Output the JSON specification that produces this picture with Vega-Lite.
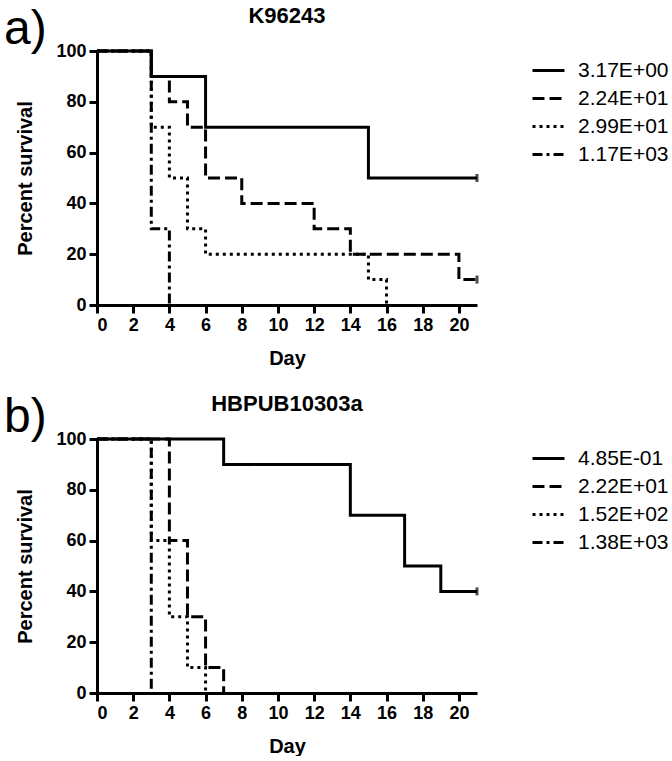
{
  "$schema": "https://vega.github.io/schema/vega-lite/v6.json",
  "padding": {"left": 3, "top": 5, "right": 0, "bottom": 0},
  "background": "white",
  "datasets": {
    "a": [
      {"dose": "1.17E+03", "day": 0, "pct": 100}, {"dose": "1.17E+03", "day": 3, "pct": 30}, {"dose": "1.17E+03", "day": 4, "pct": 0},
      {"dose": "2.99E+01", "day": 0, "pct": 100}, {"dose": "2.99E+01", "day": 3, "pct": 70}, {"dose": "2.99E+01", "day": 4, "pct": 50},
      {"dose": "2.99E+01", "day": 5, "pct": 30}, {"dose": "2.99E+01", "day": 6, "pct": 20}, {"dose": "2.99E+01", "day": 15, "pct": 10},
      {"dose": "2.99E+01", "day": 16, "pct": 0},
      {"dose": "2.24E+01", "day": 0, "pct": 100}, {"dose": "2.24E+01", "day": 3, "pct": 90}, {"dose": "2.24E+01", "day": 4, "pct": 80},
      {"dose": "2.24E+01", "day": 5, "pct": 70}, {"dose": "2.24E+01", "day": 6, "pct": 50}, {"dose": "2.24E+01", "day": 8, "pct": 40},
      {"dose": "2.24E+01", "day": 12, "pct": 30}, {"dose": "2.24E+01", "day": 14, "pct": 20}, {"dose": "2.24E+01", "day": 20, "pct": 10},
      {"dose": "2.24E+01", "day": 21, "pct": 10},
      {"dose": "3.17E+00", "day": 0, "pct": 100}, {"dose": "3.17E+00", "day": 3, "pct": 90}, {"dose": "3.17E+00", "day": 6, "pct": 70},
      {"dose": "3.17E+00", "day": 15, "pct": 50}, {"dose": "3.17E+00", "day": 21, "pct": 50}
    ],
    "ca": [
      {"dose": "3.17E+00", "day": 21, "pct": 50},
      {"dose": "2.24E+01", "day": 21, "pct": 10}
    ],
    "b": [
      {"dose": "1.38E+03", "day": 0, "pct": 100}, {"dose": "1.38E+03", "day": 3, "pct": 0},
      {"dose": "1.52E+02", "day": 0, "pct": 100}, {"dose": "1.52E+02", "day": 3, "pct": 60}, {"dose": "1.52E+02", "day": 4, "pct": 30},
      {"dose": "1.52E+02", "day": 5, "pct": 10}, {"dose": "1.52E+02", "day": 6, "pct": 0},
      {"dose": "2.22E+01", "day": 0, "pct": 100}, {"dose": "2.22E+01", "day": 4, "pct": 60}, {"dose": "2.22E+01", "day": 5, "pct": 30},
      {"dose": "2.22E+01", "day": 6, "pct": 10}, {"dose": "2.22E+01", "day": 7, "pct": 0},
      {"dose": "4.85E-01", "day": 0, "pct": 100}, {"dose": "4.85E-01", "day": 7, "pct": 90}, {"dose": "4.85E-01", "day": 14, "pct": 70},
      {"dose": "4.85E-01", "day": 17, "pct": 50}, {"dose": "4.85E-01", "day": 19, "pct": 40}, {"dose": "4.85E-01", "day": 21, "pct": 40}
    ],
    "cb": [
      {"dose": "4.85E-01", "day": 21, "pct": 40}
    ]
  },
  "config": {
    "view": {"stroke": null},
    "font": "Liberation Sans",
    "title": {"font": "Liberation Sans", "fontWeight": "bold", "fontSize": 22, "color": "black"},
    "axis": {
      "grid": false,
      "domainWidth": 3, "domainColor": "black",
      "tickWidth": 3, "tickColor": "black", "tickSize": 8,
      "labelFont": "Liberation Sans", "labelFontWeight": "bold", "labelFontSize": 18, "labelColor": "black", "labelPadding": 3,
      "labelOverlap": false,
      "titleFont": "Liberation Sans", "titleFontWeight": "bold", "titleFontSize": 20, "titleColor": "black"
    },
    "legend": {
      "orient": "right", "offset": 46, "padding": 2,
      "labelFont": "Liberation Sans", "labelFontSize": 21, "labelColor": "black", "labelOffset": 12,
      "symbolType": "stroke", "symbolSize": 1024, "symbolStrokeWidth": 3, "symbolStrokeColor": "black",
      "rowPadding": 0
    }
  },
  "resolve": {"scale": {"strokeDash": "independent"}, "legend": {"strokeDash": "independent"}},
  "spacing": 25,
  "vconcat": [
    {
      "title": {"text": "a)", "anchor": "start", "frame": "bounds", "fontSize": 48, "fontWeight": "normal", "font": "Liberation Sans", "offset": -49, "dx": -12},
      "vconcat": [
        {
          "width": 380, "height": 254,
          "title": {"text": "K96243", "fontSize": 22, "offset": 14},
          "encoding": {
            "x": {"field": "day", "type": "quantitative", "scale": {"domain": [0, 21], "nice": false},
                  "axis": {"values": [0, 2, 4, 6, 8, 10, 12, 14, 16, 18, 20], "labelOverlap": false, "title": "Day", "titlePadding": 14}},
            "y": {"field": "pct", "type": "quantitative", "scale": {"domain": [0, 100], "nice": false},
                  "axis": {"values": [0, 20, 40, 60, 80, 100], "labelOverlap": false, "title": "Percent survival", "titlePadding": 20}}
          },
          "layer": [
            {
              "data": {"name": "a"},
              "mark": {"type": "line", "interpolate": "step-after", "strokeWidth": 3, "color": "black"},
              "encoding": {
                "strokeDash": {"field": "dose", "type": "nominal",
                      "scale": {"domain": ["3.17E+00", "2.24E+01", "2.99E+01", "1.17E+03"], "range": [[1, 0], [12, 5], [3, 4], [10, 4, 3, 4]]},
                      "legend": {"title": null}}
              }
            },
            {
              "data": {"name": "ca"},
              "mark": {"type": "tick", "orient": "vertical", "size": 8, "thickness": 3, "color": "black"},
              "encoding": {}
            }
          ]
        }
      ]
    },
    {
      "title": {"text": "b)", "anchor": "start", "frame": "bounds", "fontSize": 48, "fontWeight": "normal", "font": "Liberation Sans", "offset": -49, "dx": -12},
      "vconcat": [
        {
          "width": 380, "height": 254,
          "title": {"text": "HBPUB10303a", "fontSize": 22, "offset": 14},
          "encoding": {
            "x": {"field": "day", "type": "quantitative", "scale": {"domain": [0, 21], "nice": false},
                  "axis": {"values": [0, 2, 4, 6, 8, 10, 12, 14, 16, 18, 20], "labelOverlap": false, "title": "Day", "titlePadding": 14}},
            "y": {"field": "pct", "type": "quantitative", "scale": {"domain": [0, 100], "nice": false},
                  "axis": {"values": [0, 20, 40, 60, 80, 100], "labelOverlap": false, "title": "Percent survival", "titlePadding": 20}}
          },
          "layer": [
            {
              "data": {"name": "b"},
              "mark": {"type": "line", "interpolate": "step-after", "strokeWidth": 3, "color": "black"},
              "encoding": {
                "strokeDash": {"field": "dose", "type": "nominal",
                      "scale": {"domain": ["4.85E-01", "2.22E+01", "1.52E+02", "1.38E+03"], "range": [[1, 0], [12, 5], [3, 4], [10, 4, 3, 4]]},
                      "legend": {"title": null}}
              }
            },
            {
              "data": {"name": "cb"},
              "mark": {"type": "tick", "orient": "vertical", "size": 8, "thickness": 3, "color": "black"},
              "encoding": {}
            }
          ]
        }
      ]
    }
  ]
}
